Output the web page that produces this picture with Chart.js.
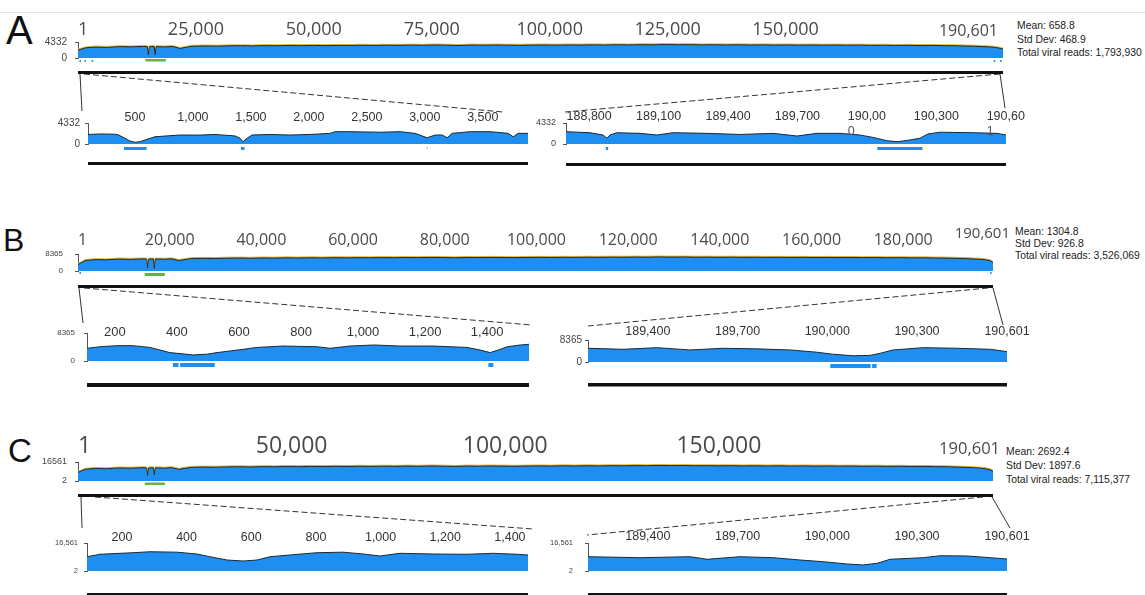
<!DOCTYPE html>
<html>
<head>
<meta charset="utf-8">
<title>Viral genome coverage</title>
<script src="https://cdn.jsdelivr.net/npm/chart.js@4.4.1/dist/chart.umd.min.js"></script>
<style>
  html, body { margin: 0; padding: 0; background: #fff; }
  body { position: relative; width: 1145px; height: 595px; overflow: hidden; font-family: "Liberation Sans", Arial, sans-serif; }
  canvas { position: absolute; }
  .panel { position: absolute; line-height: 1; color: #111; }
  .stats { position: absolute; font-size: 10.4px; color: #222; white-space: nowrap; }
  svg { position: absolute; left: 0; top: 0; }
</style>
</head>
<body>
<svg width="1145" height="595">
  <line x1="0" y1="12.5" x2="1145" y2="12.5" stroke="#e3e3e3" />
  <!-- zoom connectors from the genome tracks to the end insets -->
  <g stroke="#333" stroke-width="1" fill="none">
    <line x1="80" y1="74" x2="82" y2="111" />
    <line x1="84" y1="74" x2="503" y2="112" stroke-dasharray="6,3" />
    <line x1="1000" y1="74" x2="565" y2="112" stroke-dasharray="6,3" />
    <line x1="1000" y1="74" x2="1005" y2="108" />
    <line x1="79" y1="288" x2="83" y2="323" />
    <line x1="84" y1="288" x2="532" y2="325" stroke-dasharray="6,3" />
    <line x1="988" y1="288" x2="588" y2="326" stroke-dasharray="6,3" />
    <line x1="993" y1="288" x2="1003" y2="325" />
    <line x1="81" y1="497" x2="82" y2="528" />
    <line x1="95" y1="497" x2="533" y2="529" stroke-dasharray="6,3" />
    <line x1="983" y1="497" x2="587" y2="535" stroke-dasharray="6,3" />
    <line x1="992" y1="497" x2="1010" y2="528" />
  </g>
</svg>
<div class="panel" style="left:6px;top:10px;font-size:40px">A</div>
<div class="panel" style="left:3px;top:224px;font-size:32px">B</div>
<div class="panel" style="left:8px;top:434px;font-size:33px">C</div>
<div class="stats" style="left:1017px;top:19px;line-height:13.5px">Mean: 658.8<br>Std Dev: 468.9<br>Total viral reads: 1,793,930</div>
<div class="stats" style="left:1015px;top:226px;line-height:12px">Mean: 1304.8<br>Std Dev: 926.8<br>Total viral reads: 3,526,069</div>
<div class="stats" style="left:1006px;top:445px;line-height:14px">Mean: 2692.4<br>Std Dev: 1897.6<br>Total viral reads: 7,115,377</div>
<script>
// ---- whole genome coverage (bp position -> read depth) ----
const genomePos = [
  1, 1500, 3500, 6000, 8500, 11000, 13500, 14300, 14500, 14700,
  15700, 15900, 16100, 18000, 19500, 21000, 23500, 26000, 28500, 31000,
  33500, 36000, 38500, 41000, 43500, 46000, 48500, 51000, 53500, 56000,
  58500, 61000, 63500, 66000, 68500, 71000, 73500, 76000, 78500, 81000,
  83500, 86000, 88500, 91000, 93500, 96000, 98500, 101000, 103500, 106000,
  108500, 111000, 113500, 116000, 118500, 121000, 123500, 126000, 128500, 131000,
  133500, 136000, 138500, 141000, 143500, 146000, 148500, 151000, 153500, 156000,
  158500, 161000, 163500, 166000, 168500, 171000, 173500, 176000, 178500, 181000,
  183000, 185000, 186500, 188000, 189000, 190000, 190601
];
const covA = [
  60, 200, 300, 260, 380, 340, 420, 380, 5, 360,
  400, 6, 380, 330, 420, 150, 470, 540, 500, 580,
  620, 560, 650, 600, 700, 640, 720, 660, 740, 700,
  780, 720, 800, 760, 840, 780, 900, 820, 700, 860,
  800, 880, 820, 760, 850, 900, 840, 920, 880, 960,
  900, 1000, 940, 1050, 980, 1150, 1020, 1080, 960, 1000,
  920, 980, 900, 950, 880, 920, 850, 900, 820, 860,
  800, 840, 760, 800, 720, 760, 680, 720, 640, 600,
  520, 460, 380, 330, 250, 160, 110
];
const covB = [
  30, 260, 420, 380, 560, 480, 620, 560, 6, 540,
  600, 4, 580, 520, 640, 260, 700, 820, 760, 900,
  960, 880, 1020, 940, 1080, 1000, 1120, 1040, 1160, 1080,
  1200, 1120, 1240, 1160, 1300, 1200, 1380, 1260, 1100, 1320,
  1240, 1360, 1280, 1200, 1340, 1420, 1320, 1460, 1380, 1520,
  1420, 1580, 1480, 1640, 1540, 1760, 1600, 1700, 1520, 1580,
  1460, 1540, 1420, 1500, 1380, 1460, 1340, 1420, 1300, 1360,
  1260, 1320, 1200, 1260, 1140, 1200, 1080, 1120, 1000, 940,
  820, 720, 600, 500, 380, 240, 90
];
const covC = [
  120, 520, 760, 680, 980, 880, 1100, 1000, 30, 960,
  1060, 40, 1020, 900, 1140, 520, 1260, 1480, 1360, 1620,
  1720, 1580, 1840, 1700, 1960, 1800, 2040, 1880, 2120, 1980,
  2200, 2040, 2280, 2120, 2380, 2200, 2520, 2300, 2000, 2420,
  2260, 2480, 2340, 2180, 2440, 2600, 2400, 2680, 2520, 2780,
  2600, 2880, 2700, 3000, 2800, 3240, 2920, 3100, 2780, 2900,
  2680, 2820, 2600, 2740, 2520, 2660, 2440, 2580, 2380, 2480,
  2300, 2420, 2200, 2300, 2080, 2180, 1960, 2040, 1820, 1700,
  1480, 1300, 1080, 900, 680, 420, 200
];

// ---- genome ends, zoomed ----
const posAL = [95, 200, 330, 354, 414, 457, 500, 544, 604, 673, 759, 889, 1061, 1190, 1363, 1406, 1432, 1467, 1510, 1665, 1838, 2010, 2183, 2226, 2356, 2614, 2787, 2916, 3020, 3089, 3150, 3193, 3236, 3391, 3564, 3719, 3762, 3805, 3890];
const covAL = [45, 55, 50, 40, 10, 3.3, 2, 2.5, 6.5, 18, 24, 36, 35, 45, 25, 10, 2.5, 10, 36, 45, 36, 45, 70, 135, 135, 110, 135, 70, 12, 36, 36, 12, 70, 135, 135, 70, 18, 70, 70];
const posAR = [188700, 188804, 188860, 188877, 188890, 188920, 189020, 189093, 189162, 189309, 189452, 189594, 189698, 189784, 189884, 189970, 190026, 190087, 190134, 190186, 190229, 190264, 190316, 190458, 190562, 190601];
const covAR = [135, 90, 36, 10, 36, 90, 70, 36, 90, 70, 45, 70, 24, 70, 70, 36, 14, 3.7, 2.5, 5, 10, 55, 110, 90, 70, 36];
const posBL = [110, 152, 206, 258, 313, 345, 377, 419, 452, 497, 529, 571, 613, 658, 742, 852, 894, 958, 1035, 1119, 1226, 1335, 1377, 1410, 1436, 1465, 1507, 1535];
const covBL = [60, 100, 140, 140, 80, 35, 15, 10, 7, 9, 15, 25, 43, 80, 125, 100, 60, 125, 175, 125, 125, 80, 35, 15, 35, 100, 175, 220];
const posBR = [189200, 189317, 189430, 189541, 189651, 189765, 189876, 189966, 190020, 190087, 190143, 190177, 190220, 190321, 190435, 190545, 190601];
const covBR = [280, 185, 360, 140, 280, 220, 140, 55, 24, 13, 15, 36, 140, 360, 280, 185, 70];
const posCL = [92, 132, 235, 287, 370, 432, 472, 525, 575, 618, 658, 720, 804, 884, 946, 998, 1060, 1162, 1267, 1348, 1422, 1456];
const covCL = [200, 435, 730, 990, 860, 480, 200, 69, 50, 69, 200, 350, 730, 860, 480, 250, 600, 480, 435, 600, 435, 350];
const posCR = [189200, 189374, 189541, 189598, 189708, 189819, 189909, 189986, 190067, 190120, 190167, 190210, 190321, 190378, 190468, 190545, 190601];
const covCR = [200, 146, 200, 87, 200, 146, 69, 40, 19, 14, 24, 87, 146, 277, 250, 146, 95];

// ---- axis ticks and their labels ----
const ticksA = [1, 25000, 50000, 75000, 100000, 125000, 150000, 190601];
const labelsA = ['1', '25,000', '50,000', '75,000', '100,000', '125,000', '150,000', '190,601'];
const ticksB = [1, 20000, 40000, 60000, 80000, 100000, 120000, 140000, 160000, 180000, 190601];
const labelsB = ['1', '20,000', '40,000', '60,000', '80,000', '100,000', '120,000', '140,000', '160,000', '180,000', '190,601'];
const ticksC = [1, 50000, 100000, 150000, 190601];
const labelsC = ['1', '50,000', '100,000', '150,000', '190,601'];
const ticksAL = [500, 1000, 1500, 2000, 2500, 3000, 3500];
const labelsAL = ['500', '1,000', '1,500', '2,000', '2,500', '3,000', '3,500'];
const ticksAR = [188800, 189100, 189400, 189700, 190000, 190300, 190600];
const labelsAR = ['188,800', '189,100', '189,400', '189,700', '190,00', '190,300', '190,60'];
const wrapAR = [[190000, '0'], [190600, '1']];
const ticksLeft = [200, 400, 600, 800, 1000, 1200, 1400];
const labelsLeft = ['200', '400', '600', '800', '1,000', '1,200', '1,400'];
const ticksRight = [189400, 189700, 190000, 190300, 190601];
const labelsRight = ['189,400', '189,700', '190,000', '190,300', '190,601'];

// y-axis end labels [bottom, top]
const yLabA = ['0', '4332'];
const yLabB = ['0', '8365'];
const yLabC = ['2', '16561'];
const yLabCInset = ['2', '16,561'];

// annotated regions under the tracks
const greenA = [[13900, 18100]];
const blueA = [[300, 480], [1300, 1480], [2800, 2980], [188700, 188880], [190000, 190180]];
const greenB = [[13900, 18100]];
const blueB = [[300, 480], [190000, 190180]];
const greenC = [[13900, 18100]];
const featAL = [[405, 600], [1415, 1445]];
const faintAL = [[3015, 3025]];
const featAR = [[188872, 188882], [190045, 190240]];
const featBL = [[387, 405], [410, 522], [1404, 1420]];
const featBR = [[190010, 190145], [190150, 190165]];

const BLUE = '#1e8ff0';
const GREEN = '#5fb548';
const LINE = '#1d2731';

// annotation bars, black sequence bar, wrapped label tails, label spacing
const trackExtras = {
  id: 'trackExtras',
  beforeDraw(chart, args, o) {
    if (!o.squeeze) return;
    const sc = chart.scales.x;
    const items = sc.getLabelItems();
    const n = items.length;
    items.forEach((it, i) => {
      if (i === 0) return;
      if (i === n - 1) {
        it.options.translation[0] += o.lastShift[0];
        it.options.translation[1] += o.lastShift[1];
        return;
      }
      const v = sc.ticks[i].value;
      it.options.translation[0] = sc.left + (v - sc.min) / (sc.max - sc.min) * sc.width * o.squeeze;
    });
  },
  beforeDatasetsDraw(chart, args, o) {
    if (!o.rim) return;
    const ctx = chart.ctx;
    ctx.save();
    ctx.shadowColor = 'rgba(226,176,46,0.9)';
    ctx.shadowOffsetY = -1;
    ctx.shadowBlur = 0;
  },
  afterDatasetsDraw(chart, args, o) {
    if (o.rim) chart.ctx.restore();
  },
  afterDraw(chart, args, o) {
    const { ctx, chartArea: a } = chart;
    const x = chart.scales.x;
    ctx.save();
    (o.features || []).forEach(f => {
      ctx.fillStyle = f.color;
      f.ranges.forEach(([s, e]) => {
        const x0 = x.getPixelForValue(s), x1 = x.getPixelForValue(e);
        ctx.fillRect(x0, a.bottom + f.dy, Math.max(x1 - x0, 1.5), f.h);
      });
    });
    if (o.seq) {
      ctx.fillStyle = '#111';
      ctx.fillRect(a.left, a.bottom + o.seq.dy, a.right - a.left, o.seq.h);
    }
    if (o.wrap) {
      ctx.font = o.wrap.font;
      ctx.fillStyle = '#555';
      ctx.textBaseline = 'middle';
      ctx.textAlign = 'left';
      o.wrap.items.forEach(([v, txt]) => {
        const i = x.ticks.findIndex(t => t.value === v);
        const head = x.ticks[i].label;
        const left = x.getPixelForValue(v) - ctx.measureText(head).width / 2;
        ctx.fillText(txt, left, a.top + o.wrap.dy);
      });
    }
    ctx.restore();
  }
};

function addTrack(t) {
  const w = t.R - t.L + t.yW + t.padR;
  const h = t.B - t.T + t.xH + t.padB;
  const cv = document.createElement('canvas');
  cv.width = w;
  cv.height = h;
  cv.style.left = (t.L - t.yW) + 'px';
  cv.style.top = (t.T - t.xH) + 'px';
  document.body.appendChild(cv);
  const last = t.ticks.length - 1;

  new Chart(cv, {
    type: 'line',
    data: {
      datasets: [{
        data: t.pos.map((p, i) => ({ x: p, y: t.cov[i] })),
        borderColor: LINE,
        borderWidth: 1,
        backgroundColor: BLUE,
        fill: 'start',
        pointRadius: 0,
        tension: 0
      }]
    },
    options: {
      responsive: false,
      animation: false,
      events: [],
      layout: { padding: { left: 0, top: 0, right: t.padR, bottom: t.padB } },
      plugins: {
        legend: { display: false },
        tooltip: { enabled: false },
        trackExtras: {
          features: t.features, seq: t.seq, wrap: t.wrap,
          squeeze: t.squeeze, lastShift: t.lastShift, rim: t.rim
        }
      },
      scales: {
        x: {
          type: 'linear',
          position: 'top',
          bounds: 'data',
          min: t.xMin,
          max: t.xMax,
          afterBuildTicks: s => { s.ticks = t.ticks.map(v => ({ value: v })); },
          afterFit: s => { s.height = t.xH; },
          grid: { display: false, drawTicks: false },
          border: { display: false },
          ticks: {
            autoSkip: false,
            maxRotation: 0,
            mirror: !!t.mirror,
            align: t.align || 'center',
            padding: t.xPad,
            color: t.tickColor,
            font: c => ({
              family: t.tickFamily,
              size: c.index === last && t.lastSize ? t.lastSize : t.tickSize,
              lineHeight: 1
            }),
            callback: (v, i) => t.labels[i]
          }
        },
        y: {
          type: 'logarithmic',
          bounds: 'data',
          min: t.yMin,
          max: t.yMax,
          afterBuildTicks: s => { s.ticks = [{ value: t.yMin }, { value: t.yMax }]; },
          afterFit: s => { s.width = t.yW; },
          grid: { display: true, drawOnChartArea: false, tickLength: 3, color: '#555' },
          border: { display: true, color: '#555' },
          ticks: {
            autoSkip: false,
            padding: t.yPad,
            color: '#444',
            font: { family: 'Liberation Sans', size: t.ySize, lineHeight: 1 },
            callback: v => (v === t.yMin ? t.yLabels[0] : t.yLabels[1])
          }
        }
      }
    },
    plugins: [trackExtras]
  });
}

const mainTick = { tickFamily: 'Open Sans', tickColor: '#4a4a4a', align: 'inner', yW: 40, padR: 22, rim: true };
// inset labels sit partly over the plot, so they are mirrored (no label clipping)
const insetTick = { tickFamily: 'Liberation Sans', tickColor: '#333', tickSize: 12.5, xH: 24, padR: 30, mirror: true };

// panel A
addTrack({ ...mainTick, L: 78, R: 1003, T: 42, B: 58, xH: 32, padB: 18, xPad: 3, tickSize: 18, lastSize: 16,
  squeeze: 0.972, lastShift: [-5, 0],
  pos: genomePos, cov: covA, xMin: 1, xMax: 190601, ticks: ticksA, labels: labelsA,
  yMin: 1, yMax: 4332, yLabels: yLabA, ySize: 10, yPad: 8,
  features: [{ ranges: greenA, color: GREEN, dy: 1, h: 2.5 }, { ranges: blueA, color: BLUE, dy: 2, h: 2 }],
  seq: { dy: 13, h: 3 } });
addTrack({ ...insetTick, L: 88, R: 528, T: 123, B: 144, padR: 20, padB: 24, xPad: -11.25,
  pos: posAL, cov: covAL, xMin: 95, xMax: 3890, ticks: ticksAL, labels: labelsAL,
  yW: 32, yMin: 1, yMax: 4332, yLabels: yLabA, ySize: 10, yPad: 5,
  features: [{ ranges: featAL, color: BLUE, dy: 3, h: 3 }, { ranges: faintAL, color: '#9cc8ef', dy: 3, h: 2 }],
  seq: { dy: 18, h: 3 } });
addTrack({ ...insetTick, L: 566, R: 1006, T: 123, B: 144, padB: 25, xPad: -12.25,
  pos: posAR, cov: covAR, xMin: 188700, xMax: 190601, ticks: ticksAR, labels: labelsAR,
  yW: 30, yMin: 1, yMax: 4332, yLabels: yLabA, ySize: 9, yPad: 7,
  features: [{ ranges: featAR, color: BLUE, dy: 3, h: 3 }],
  seq: { dy: 19, h: 3 },
  wrap: { items: wrapAR, font: '12.5px "Liberation Sans"', dy: 9 } });

// panel B
addTrack({ ...mainTick, L: 78, R: 993, T: 254, B: 271, xH: 34, padB: 19, xPad: 6, tickSize: 16, lastSize: 15,
  squeeze: 0.955, lastShift: [17, -7],
  pos: genomePos, cov: covB, xMin: 1, xMax: 190601, ticks: ticksB, labels: labelsB,
  yMin: 1, yMax: 8365, yLabels: yLabB, ySize: 8, yPad: 12,
  features: [{ ranges: greenB, color: GREEN, dy: 2, h: 3 }, { ranges: blueB, color: BLUE, dy: 1, h: 2 }],
  seq: { dy: 14, h: 3 } });
addTrack({ ...insetTick, L: 87, R: 529, T: 333, B: 361, padR: 20, padB: 28, xPad: -7.5, tickSize: 13,
  pos: posBL, cov: covBL, xMin: 110, xMax: 1535, ticks: ticksLeft, labels: labelsLeft,
  yW: 34, yMin: 1, yMax: 8365, yLabels: yLabB, ySize: 8, yPad: 9,
  features: [{ ranges: featBL, color: BLUE, dy: 2, h: 4 }],
  seq: { dy: 22, h: 4 } });
addTrack({ ...insetTick, L: 588, R: 1007, T: 340, B: 362, padB: 27, xPad: -14.25,
  pos: posBR, cov: covBR, xMin: 189200, xMax: 190601, ticks: ticksRight, labels: labelsRight,
  yW: 32, yMin: 1, yMax: 8365, yLabels: yLabB, ySize: 10, yPad: 3,
  features: [{ ranges: featBR, color: BLUE, dy: 2, h: 4 }],
  seq: { dy: 21, h: 3.5 } });

// panel C
addTrack({ ...mainTick, L: 78, R: 993, T: 462, B: 481, xH: 34, padB: 18, xPad: 4.5, tickSize: 23, lastSize: 16.5,
  squeeze: 0.89, lastShift: [7, 0],
  pos: genomePos, cov: covC, xMin: 1, xMax: 190601, ticks: ticksC, labels: labelsC,
  yMin: 2, yMax: 16561, yLabels: yLabC, ySize: 9, yPad: 8,
  features: [{ ranges: greenC, color: GREEN, dy: 1.5, h: 2.5 }],
  seq: { dy: 13, h: 3 } });
addTrack({ ...insetTick, L: 87, R: 528, T: 543, B: 571, padR: 20, padB: 26, xPad: -11.25,
  pos: posCL, cov: covCL, xMin: 92, xMax: 1456, ticks: ticksLeft, labels: labelsLeft,
  yW: 34, yMin: 2, yMax: 16561, yLabels: yLabCInset, ySize: 7.5, yPad: 6,
  seq: { dy: 22, h: 3 } });
addTrack({ ...insetTick, L: 588, R: 1007, T: 543, B: 571, padB: 26, xPad: -12.25,
  pos: posCR, cov: covCR, xMin: 189200, xMax: 190601, ticks: ticksRight, labels: labelsRight,
  yW: 40, yMin: 2, yMax: 16561, yLabels: yLabCInset, ySize: 7.5, yPad: 12,
  seq: { dy: 22, h: 3 } });
</script>
</body>
</html>
